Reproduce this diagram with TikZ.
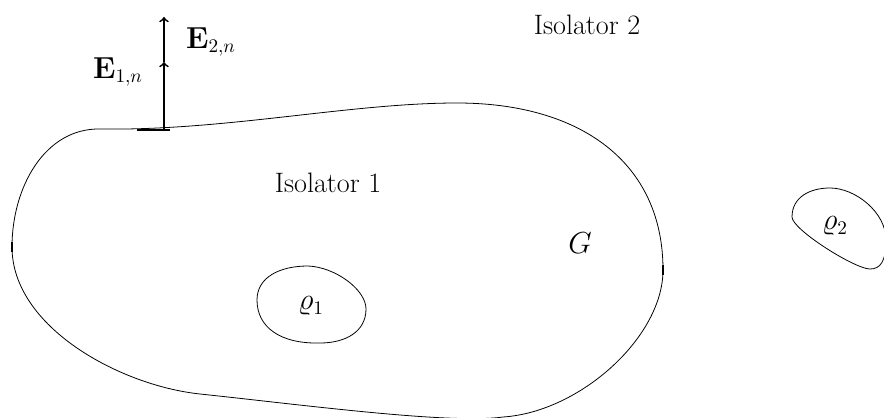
\documentclass[tikz,border=0pt]{standalone}
\usepackage{amsmath}

\begin{document}
\begin{tikzpicture}[lbl/.style={font=\fontsize{16}{19}\selectfont}, rand/.style={line width=0.45pt}]
		\useasboundingbox (0, 0) rectangle (17.68, 8.34);
		% region G
		\draw [rand] (0.24, 3.40) .. controls (0.24, 4.6) and (0.9, 5.78) .. (2.0, 5.76)
			.. controls (4.5, 5.72) and (7.0, 6.28) .. (9.14, 6.28)
			.. controls (11.6, 6.28) and (13.26, 5.1) .. (13.26, 2.94)
			.. controls (13.26, 1.6) and (11.6, 0.1) .. (10.06, 0.0)
			.. controls (9.0, -0.15) and (6.0, 0.25) .. (4.0, 0.46)
			.. controls (2.4, 0.63) and (0.24, 1.8) .. cycle;
		\draw [line width=1.2pt] (2.74, 5.745) -- (3.40, 5.745);
		\draw [line width=1.2pt] (0.245, 3.30) -- (0.245, 3.50);
		\draw [line width=1.2pt] (13.265, 2.85) -- (13.265, 3.05);
		% inner boundaries
		\draw [rand] (5.14, 2.34) .. controls (5.14, 2.80) and (5.60, 3.02) .. (6.16, 3.02)
			.. controls (6.7, 3.0) and (7.32, 2.55) .. (7.32, 2.16)
			.. controls (7.32, 1.7) and (6.9, 1.48) .. (6.40, 1.48)
			.. controls (5.6, 1.46) and (5.14, 1.8) .. cycle;
		\draw [rand] (15.84, 4.0) .. controls (15.84, 4.4) and (16.2, 4.58) .. (16.60, 4.58)
			.. controls (17.1, 4.58) and (17.72, 4.1) .. (17.72, 3.54)
			.. controls (17.72, 3.1) and (17.6, 2.96) .. (17.40, 2.96)
			.. controls (17.1, 2.96) and (15.84, 3.75) .. cycle;
		% normal components
		\coordinate (fuss) at (3.28, 5.74);
		\coordinate (mitte) at (3.28, 7.10);
		\coordinate (spitze) at (3.28, 8.00);
		\draw [->, line width=1pt] (fuss) -- (mitte);
		\draw [->, line width=1pt] (mitte) -- (spitze);
		\node [lbl] (eins) at (2.36, 6.90) {$\mathbf{E}_{1,n}$};
		\node [lbl] (zwei) at (4.22, 7.50) {$\mathbf{E}_{2,n}$};
		% labels
		\node [lbl] (isozwei) at (11.74, 7.84) {Isolator 2};
		\node [lbl] (isoeins) at (6.56, 4.68) {Isolator 1};
		\node [lbl] (gebiet) at (11.60, 3.48) {$G$};
		\node [lbl] (rhoeins) at (6.22, 2.22) {$\varrho_1$};
		\node [lbl] (rhozwei) at (16.70, 3.82) {$\varrho_2$};
	\end{tikzpicture}
\end{document}
